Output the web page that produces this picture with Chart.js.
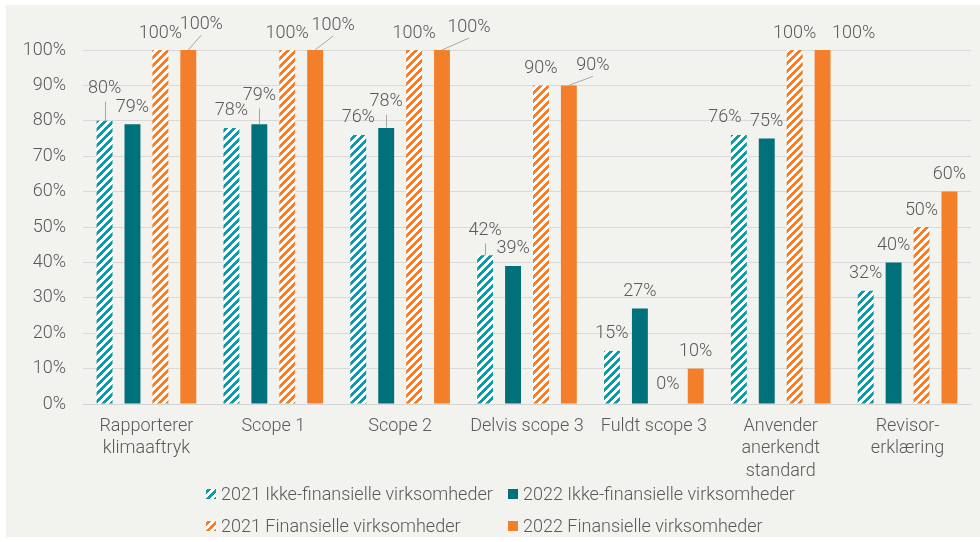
<!DOCTYPE html>
<html>
<head>
<meta charset="utf-8">
<script src="https://cdn.jsdelivr.net/npm/chart.js@4/dist/chart.umd.min.js"></script>
<style>
html,body{margin:0;padding:0;background:#ffffff;}
canvas{display:block;}
</style>
</head>
<body>
<canvas id="c" width="980" height="542"></canvas>
<script>
// ---- data ----
const categories = [['Rapporterer','klimaaftryk'], 'Scope 1', 'Scope 2', 'Delvis scope 3', 'Fuldt scope 3', ['Anvender','anerkendt','standard'], ['Revisor-','erklæring']];
const seriesNames = ['2021 Ikke-finansielle virksomheder', '2022 Ikke-finansielle virksomheder', '2021 Finansielle virksomheder', '2022 Finansielle virksomheder'];
const ikkeFin2021 = [80, 78, 76, 42, 15, 76, 32];
const ikkeFin2022 = [79, 79, 78, 39, 27, 75, 40];
const fin2021 = [100, 100, 100, 90, 0, 100, 50];
const fin2022 = [100, 100, 100, 90, 10, 100, 60];
const yTickValues = [0, 10, 20, 30, 40, 50, 60, 70, 80, 90, 100];

// ---- styling / layout (not data) ----
const TEAL_LIGHT = '#0e9aa7';
const TEAL_DARK = '#00707a';
const ORANGE = '#f47f2a';
const TEXT = '#595959';
const FONT_FAMILY = 'Roboto, "Open Sans", "Liberation Sans", sans-serif';
const FONT_WEIGHT = '300';
const FONT_SIZE = 18;

// label adjustments: [datasetIndex, categoryIndex, dx, extraUp, leader]
const labelAdjust = [
  [0, 0, 0, 15, 'v'],
  [3, 0, 13, 9, 'd'],
  [1, 1, 0, 12, 'v'],
  [3, 1, 18, 8, 'd'],
  [1, 2, 0, 9, 'v'],
  [3, 2, 27, 6, 'd'],
  [0, 3, 0, 8, 'v'],
  [3, 3, 24, 3, 'd'],
  [2, 4, 0, 3, null],
  [0, 5, -14, 0, null],
  [3, 5, 31, 0, null]
];

function makePattern(color) {
  const p = document.createElement('canvas');
  p.width = 8; p.height = 8;
  const g = p.getContext('2d');
  g.fillStyle = '#ffffff';
  g.fillRect(0, 0, 8, 8);
  g.fillStyle = color;
  for (let y = 0; y < 8; y++) {
    for (let x = 0; x < 8; x++) {
      if (((x + y) % 8) < 4) g.fillRect(x, y, 1, 1);
    }
  }
  return document.getElementById('c').getContext('2d').createPattern(p, 'repeat');
}

const patTeal = makePattern(TEAL_LIGHT);
const patOrange = makePattern(ORANGE);

const panelPlugin = {
  id: 'panel',
  beforeDraw(chart) {
    const ctx = chart.ctx;
    ctx.save();
    ctx.fillStyle = '#ffffff';
    ctx.fillRect(0, 0, chart.width, chart.height);
    ctx.fillStyle = '#f2f2ee';
    ctx.fillRect(6, 5, chart.width - 6, chart.height - 10);
    ctx.restore();
  }
};

const labelPlugin = {
  id: 'valueLabels',
  afterDatasetsDraw(chart) {
    const ctx = chart.ctx;
    ctx.save();
    ctx.font = FONT_WEIGHT + ' ' + FONT_SIZE + 'px ' + FONT_FAMILY;
    ctx.fillStyle = TEXT;
    ctx.textAlign = 'center';
    ctx.textBaseline = 'middle';
    chart.data.datasets.forEach((ds, di) => {
      const meta = chart.getDatasetMeta(di);
      meta.data.forEach((el, ci) => {
        const v = ds.data[ci];
        let dx = 0, up = 0, leader = null;
        labelAdjust.forEach(a => { if (a[0] === di && a[1] === ci) { dx = a[2]; up = a[3]; leader = a[4]; } });
        const lx = el.x + dx;
        const ly = el.y - 18 - up;
        if (leader) {
          ctx.strokeStyle = '#a6a6a6';
          ctx.lineWidth = 1;
          ctx.beginPath();
          if (leader === 'v') {
            ctx.moveTo(Math.round(el.x) + 0.5, el.y);
            ctx.lineTo(Math.round(el.x) + 0.5, ly + 14);
          } else {
            ctx.moveTo(el.x, el.y);
            ctx.lineTo(lx, ly + 12);
          }
          ctx.stroke();
        }
        ctx.fillText(v + '%', lx, ly + 1);
      });
    });
    ctx.restore();
  }
};

const legendPlugin = {
  id: 'customLegend',
  afterDraw(chart) {
    const ctx = chart.ctx;
    const cols = [206, 508];
    const rows = [494, 526];
    ctx.save();
    ctx.font = FONT_WEIGHT + ' ' + FONT_SIZE + 'px ' + FONT_FAMILY;
    ctx.textBaseline = 'middle';
    ctx.textAlign = 'left';
    chart.data.datasets.forEach((ds, i) => {
      const x = cols[i % 2];
      const y = rows[Math.floor(i / 2)];
      ctx.fillStyle = ds.backgroundColor;
      ctx.fillRect(x, y - 5, 10, 10);
      ctx.fillStyle = TEXT;
      ctx.fillText(ds.label, x + 15, y + 1);
    });
    ctx.restore();
  }
};

new Chart(document.getElementById('c'), {
  type: 'bar',
  data: {
    labels: categories,
    datasets: [
      { label: seriesNames[0], data: ikkeFin2021, backgroundColor: patTeal },
      { label: seriesNames[1], data: ikkeFin2022, backgroundColor: TEAL_DARK },
      { label: seriesNames[2], data: fin2021, backgroundColor: patOrange },
      { label: seriesNames[3], data: fin2022, backgroundColor: ORANGE }
    ]
  },
  options: {
    responsive: false,
    animation: false,
    devicePixelRatio: 1,
    layout: { padding: { top: 50, right: 9, bottom: 34, left: 0 } },
    datasets: { bar: { categoryPercentage: 0.88, barPercentage: 0.57, borderWidth: 0 } },
    plugins: { legend: { display: false }, tooltip: { enabled: false } },
    scales: {
      x: {
        grid: { display: false, drawTicks: false },
        border: { display: true, color: '#d4d4d4', width: 1 },
        ticks: {
          color: TEXT,
          font: { family: FONT_FAMILY, size: FONT_SIZE, weight: FONT_WEIGHT, lineHeight: 1.25 },
          padding: 11,
          maxRotation: 0,
          autoSkip: false
        },
        afterFit(s) { s.height = 104; }
      },
      y: {
        min: 0,
        max: 100,
        afterBuildTicks(s) { s.ticks = yTickValues.map(v => ({ value: v })); },
        ticks: {
          color: TEXT,
          font: { family: FONT_FAMILY, size: FONT_SIZE, weight: FONT_WEIGHT },
          padding: 17,
          callback: v => v + '%'
        },
        grid: { color: '#d9d9d9', drawTicks: false },
        border: { display: false },
        afterFit(s) { s.width = 83; }
      }
    }
  },
  plugins: [panelPlugin, labelPlugin, legendPlugin]
});
</script>
</body>
</html>
